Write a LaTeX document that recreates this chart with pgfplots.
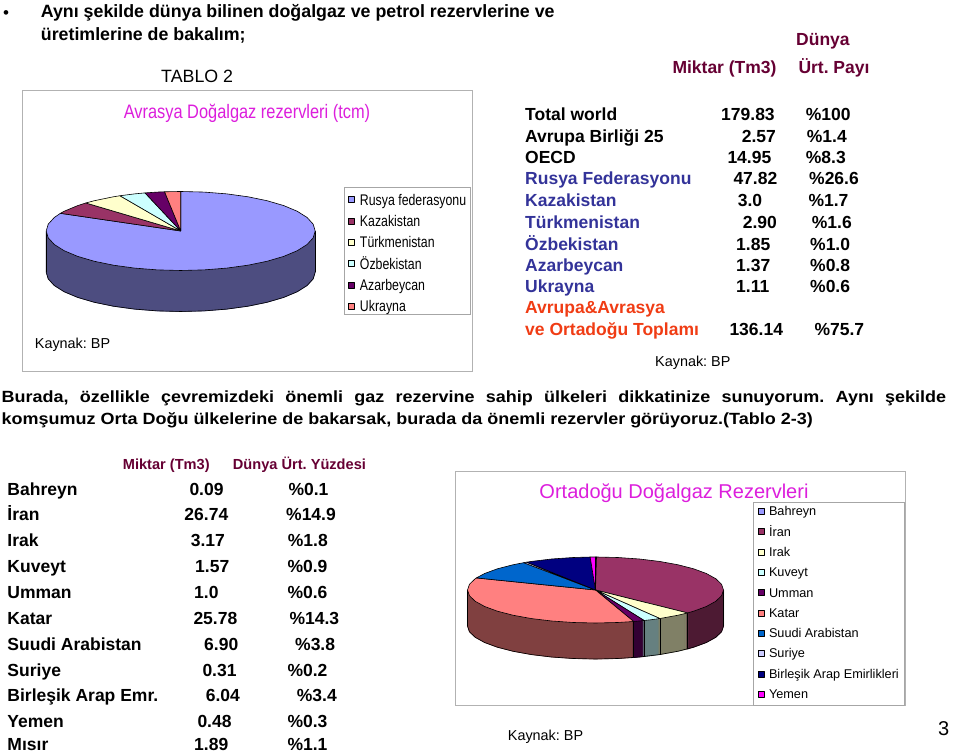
\documentclass[border=0pt]{standalone}
\usepackage{fontspec}
\setmainfont{Liberation Sans}
\newfontfamily\narrowA{Liberation Sans}[FakeStretch=0.84]
\newfontfamily\narrowB{Liberation Sans}[FakeStretch=0.80]
\newfontfamily\wideA{Liberation Sans}[FakeStretch=1.11]
\usepackage{pgfplots}
\pgfplotsset{compat=1.18}
\newcommand{\fs}[1]{\fontsize{#1bp}{#1bp}\selectfont}
\definecolor{maroon}{RGB}{102,0,51}
\definecolor{tblue}{RGB}{51,51,153}
\definecolor{tred}{RGB}{240,60,20}
\definecolor{mag}{RGB}{220,30,220}
\definecolor{cA}{RGB}{153,153,255}
\definecolor{cB}{RGB}{153,51,102}
\definecolor{cC}{RGB}{255,255,204}
\definecolor{cD}{RGB}{204,255,255}
\definecolor{cE}{RGB}{102,0,102}
\definecolor{cF}{RGB}{255,128,128}
\definecolor{cG}{RGB}{0,102,204}
\definecolor{cH}{RGB}{204,204,255}
\definecolor{cI}{RGB}{0,0,128}
\definecolor{cJ}{RGB}{255,0,255}
\definecolor{sA}{RGB}{77,77,128}
\definecolor{sB}{RGB}{77,26,51}
\definecolor{sC}{RGB}{128,128,102}
\definecolor{sD}{RGB}{102,128,128}
\definecolor{sE}{RGB}{51,0,51}
\definecolor{sF}{RGB}{128,64,64}
\pgfplotsset{pageaxis/.style={hide axis, clip=false, scale only axis, width=960bp, height=754bp, at={(0,0)}, anchor=south west}}
\tikzset{
 tb/.style={anchor=base west, inner sep=0pt, font=\bfseries\fs{17.5}},
 tr/.style={anchor=base west, inner sep=0pt, font=\fs{14.4}},
}
\frenchspacing
\begin{document}
\begin{tikzpicture}
\path[use as bounding box] (0,0) rectangle (960bp,754bp);
% ---------------- page text ----------------
\begin{axis}[pageaxis, xmin=0, xmax=960, ymin=0, ymax=754, y dir=reverse]
\draw[black!30, line width=0.8bp] (axis cs:22.5,90) rectangle (axis cs:472.7,371.7);
\draw[black!30, line width=0.8bp] (axis cs:455,471) rectangle (axis cs:905.5,705);
\node[anchor=base west, inner sep=0pt, font=\fs{17}] at (axis cs:3,19) {•};
\node[anchor=base west, inner sep=0pt, font=\bfseries\fs{17.8}] at (axis cs:40.7,17.3) {Aynı şekilde dünya bilinen doğalgaz ve petrol rezervlerine ve};
\node[anchor=base west, inner sep=0pt, font=\bfseries\fs{17.8}] at (axis cs:40.7,40.7) {üretimlerine de bakalım;};
\node[anchor=base west, inner sep=0pt, font=\fs{17.8}] at (axis cs:161,82.7) {TABLO 2};
% right table
\node[tb, text=maroon] at (axis cs:796,45.7) {Dünya};
\node[tb, text=maroon] at (axis cs:672.3,74) {Miktar (Tm3)};
\node[tb, text=maroon] at (axis cs:798.3,74) {Ürt. Payı};
\node[tb] at (axis cs:525,120.7) {Total world};
\node[tb] at (axis cs:721,120.7) {179.83};
\node[tb] at (axis cs:805.7,120.7) {\%100};
\node[tb] at (axis cs:525,142.3) {Avrupa Birliği 25};
\node[tb] at (axis cs:741.7,142.3) {2.57};
\node[tb] at (axis cs:806.7,142.3) {\%1.4};
\node[tb] at (axis cs:525,163.3) {OECD};
\node[tb] at (axis cs:727.3,163.3) {14.95};
\node[tb] at (axis cs:805.7,163.3) {\%8.3};
\node[tb, text=tblue] at (axis cs:525,184.3) {Rusya Federasyonu};
\node[tb] at (axis cs:733.3,184.3) {47.82};
\node[tb] at (axis cs:809,184.3) {\%26.6};
\node[tb, text=tblue] at (axis cs:525,206.7) {Kazakistan};
\node[tb] at (axis cs:737.7,206.7) {3.0};
\node[tb] at (axis cs:808.3,206.7) {\%1.7};
\node[tb, text=tblue] at (axis cs:525,228.3) {Türkmenistan};
\node[tb] at (axis cs:742.7,228.3) {2.90};
\node[tb] at (axis cs:811.7,228.3) {\%1.6};
\node[tb, text=tblue] at (axis cs:525,250) {Özbekistan};
\node[tb] at (axis cs:736,250) {1.85};
\node[tb] at (axis cs:810,250) {\%1.0};
\node[tb, text=tblue] at (axis cs:525,271.7) {Azarbeycan};
\node[tb] at (axis cs:736,271.7) {1.37};
\node[tb] at (axis cs:810,271.7) {\%0.8};
\node[tb, text=tblue] at (axis cs:525,292.7) {Ukrayna};
\node[tb] at (axis cs:736,292.7) {1.11};
\node[tb] at (axis cs:810,292.7) {\%0.6};
\node[tb, text=tred] at (axis cs:525,313.3) {Avrupa\&Avrasya};
\node[tb, text=tred] at (axis cs:525,335.7) {ve Ortadoğu Toplamı};
\node[tb] at (axis cs:729.3,335.7) {136.14};
\node[tb] at (axis cs:814.3,335.7) {\%75.7};
\node[tr] at (axis cs:655,366.7) {Kaynak: BP};
% chart 1 texts
\node[anchor=base, inner sep=0pt, font=\narrowA\fs{19.5}, text=mag] at (axis cs:247,118.3) {Avrasya Doğalgaz rezervleri (tcm)};
\node[tr] at (axis cs:34.7,348.3) {Kaynak: BP};
% paragraph
\node[anchor=base west, inner sep=0pt, font=\wideA\bfseries\fs{16.2}] at (axis cs:1.5,402.3) {\makebox[944.5bp][s]{Burada, özellikle çevremizdeki önemli gaz rezervine sahip ülkeleri dikkatinize sunuyorum. Aynı şekilde}};
\node[anchor=base west, inner sep=0pt, font=\wideA\bfseries\fs{16.2}] at (axis cs:1.5,424.3) {komşumuz Orta Doğu ülkelerine de bakarsak, burada da önemli rezervler görüyoruz.(Tablo 2-3)};
% bottom-left table
\node[anchor=base west, inner sep=0pt, font=\bfseries\fs{14.6}, text=maroon] at (axis cs:122.7,469.3) {Miktar (Tm3)};
\node[anchor=base west, inner sep=0pt, font=\bfseries\fs{14.6}, text=maroon] at (axis cs:232.7,469.3) {Dünya Ürt. Yüzdesi};
\node[tb] at (axis cs:7.3,495) {Bahreyn};
\node[tb] at (axis cs:189.3,495) {0.09};
\node[tb] at (axis cs:288.3,495) {\%0.1};
\node[tb] at (axis cs:7.3,520.7) {İran};
\node[tb] at (axis cs:184.3,520.7) {26.74};
\node[tb] at (axis cs:286,520.7) {\%14.9};
\node[tb] at (axis cs:7.3,546.7) {Irak};
\node[tb] at (axis cs:190.7,546.7) {3.17};
\node[tb] at (axis cs:287.7,546.7) {\%1.8};
\node[tb] at (axis cs:7.3,572.7) {Kuveyt};
\node[tb] at (axis cs:195,572.7) {1.57};
\node[tb] at (axis cs:287.3,572.7) {\%0.9};
\node[tb] at (axis cs:7.3,598.3) {Umman};
\node[tb] at (axis cs:194,598.3) {1.0};
\node[tb] at (axis cs:287.3,598.3) {\%0.6};
\node[tb] at (axis cs:7.3,624.3) {Katar};
\node[tb] at (axis cs:193.3,624.3) {25.78};
\node[tb] at (axis cs:289.3,624.3) {\%14.3};
\node[tb] at (axis cs:7.3,650) {Suudi Arabistan};
\node[tb] at (axis cs:204,650) {6.90};
\node[tb] at (axis cs:295,650) {\%3.8};
\node[tb] at (axis cs:7.3,676) {Suriye};
\node[tb] at (axis cs:202.3,676) {0.31};
\node[tb] at (axis cs:287.3,676) {\%0.2};
\node[tb] at (axis cs:7.3,701.7) {Birleşik Arap Emr.};
\node[tb] at (axis cs:205.7,701.7) {6.04};
\node[tb] at (axis cs:296.7,701.7) {\%3.4};
\node[tb] at (axis cs:7.3,727.3) {Yemen};
\node[tb] at (axis cs:197.3,727.3) {0.48};
\node[tb] at (axis cs:287.3,727.3) {\%0.3};
\node[tb] at (axis cs:7.3,750) {Mısır};
\node[tb] at (axis cs:194,750) {1.89};
\node[tb] at (axis cs:287.3,750) {\%1.1};
% chart 2 texts
\node[anchor=base, inner sep=0pt, font=\fs{20}, text=mag] at (axis cs:674,498.3) {Ortadoğu Doğalgaz Rezervleri};
\node[tr] at (axis cs:507.7,740.7) {Kaynak: BP};
\node[anchor=base west, inner sep=0pt, font=\fs{20}] at (axis cs:938,735) {3};
\end{axis}
% ---------------- pie 1: Avrasya ----------------
\begin{axis}[pageaxis, data cs=polar,
  xmin=-1.34349, xmax=5.79405, ymin=-13.24051, ymax=5.84810,
  legend style={at={(0.35802,0.75239)}, anchor=north west, draw=black!35, fill=white,
    inner xsep=4.3bp, inner ysep=0bp, row sep=0bp, font=\narrowB\fs{15.4},
    cells={anchor=base west}, nodes={inner sep=0bp, text height=18.3bp, text depth=3bp}},
  legend image code/.code={\draw[#1, line width=0.4bp] (0bp,2.5bp) rectangle (6bp,8.5bp); \path (11.3bp,0bp);}]
\pgfplotsinvokeforeach{41,40,...,1}{
\addplot[forget plot, fill=sA, draw=sA, line width=0.8bp, yshift=-#1bp] coordinates {(0,0) (0,1) (-10,1) (-20,1) (-30,1) (-40,1) (-50,1) (-60,1) (-70,1) (-80,1) (-90,1) (-100,1) (-110,1) (-120,1) (-130,1) (-140,1) (-150,1) (-160,1) (-170,1) (-180,1) (0,0)};
}
\addplot[forget plot, draw=black, line width=0.6bp, yshift=-41bp] coordinates {(0,1) (-10,1) (-20,1) (-30,1) (-40,1) (-50,1) (-60,1) (-70,1) (-80,1) (-90,1) (-100,1) (-110,1) (-120,1) (-130,1) (-140,1) (-150,1) (-160,1) (-170,1) (-180,1)};
\addplot[forget plot, data cs=cart, draw=black, line width=0.6bp] coordinates {(1,0) (1,-1.03797)};
\addplot[forget plot, data cs=cart, draw=black, line width=0.6bp] coordinates {(-1,0) (-1,-1.03797)};
\addplot[fill=cA, draw=black, line width=0.6bp, line join=round] coordinates {(0,0) (90,1) (80,1) (70,1) (60,1) (50,1) (40,1) (30,1) (20,1) (10,1) (0,1) (-10,1) (-20,1) (-30,1) (-40,1) (-50,1) (-60,1) (-70,1) (-80,1) (-90,1) (-100,1) (-110,1) (-120,1) (-130,1) (-140,1) (-150,1) (-160,1) (-170,1) (-180,1) (-190,1) (-200,1) (-206.56,1) (0,0)};
\addlegendentry{Rusya federasyonu}
\addplot[fill=cB, draw=black, line width=0.6bp, line join=round] coordinates {(0,0) (-206.56,1) (-210,1) (-220,1) (-225.16,1) (0,0)};
\addlegendentry{Kazakistan}
\addplot[fill=cC, draw=black, line width=0.6bp, line join=round] coordinates {(0,0) (-225.16,1) (-230,1) (-240,1) (-243.14,1) (0,0)};
\addlegendentry{Türkmenistan}
\addplot[fill=cD, draw=black, line width=0.6bp, line join=round] coordinates {(0,0) (-243.14,1) (-250,1) (-254.61,1) (0,0)};
\addlegendentry{Özbekistan}
\addplot[fill=cE, draw=black, line width=0.6bp, line join=round] coordinates {(0,0) (-254.61,1) (-260,1) (-263.11,1) (0,0)};
\addlegendentry{Azarbeycan}
\addplot[fill=cF, draw=black, line width=0.6bp, line join=round] coordinates {(0,0) (-263.11,1) (-270,1) (0,0)};
\addlegendentry{Ukrayna}
\end{axis}
% ---------------- pie 2: Ortadogu ----------------
\begin{axis}[pageaxis, data cs=polar,
  xmin=-4.65234, xmax=2.84766, ymin=-4.96970, ymax=17.87879,
  legend style={at={(0.78406,0.33462)}, anchor=north west, draw=black!35, fill=white,
    inner xsep=5bp, inner ysep=0bp, row sep=0bp, font=\fs{12.7},
    cells={anchor=base west}, nodes={inner sep=0bp, text height=14bp, text depth=6.3bp}},
  legend image code/.code={\draw[#1, line width=0.4bp] (0bp,1.5bp) rectangle (6bp,7.5bp); \path (10.6bp,0bp);}]
\pgfplotsinvokeforeach{36,35,...,1}{
\addplot[forget plot, fill=sF, draw=sF, line width=0.8bp, yshift=-#1bp] coordinates {(0,0) (-72.66,1) (-80,1) (-90,1) (-100,1) (-110,1) (-120,1) (-130,1) (-140,1) (-150,1) (-160,1) (-170,1) (-180,1) (0,0)};
\addplot[forget plot, fill=sE, draw=sE, line width=0.8bp, yshift=-#1bp] coordinates {(0,0) (-67.67,1) (-72.66,1) (0,0)};
\addplot[forget plot, fill=sD, draw=sD, line width=0.8bp, yshift=-#1bp] coordinates {(0,0) (-59.83,1) (-64,1) (-67.67,1) (0,0)};
\addplot[forget plot, fill=sC, draw=sC, line width=0.8bp, yshift=-#1bp] coordinates {(0,0) (-44,1) (-50,1) (-59.83,1) (0,0)};
\addplot[forget plot, fill=sB, draw=sB, line width=0.8bp, yshift=-#1bp] coordinates {(0,0) (0,1) (-10,1) (-20,1) (-30,1) (-40,1) (-44,1) (0,0)};
}
\addplot[forget plot, draw=black, line width=0.6bp, yshift=-36bp] coordinates {(0,1) (-10,1) (-20,1) (-30,1) (-40,1) (-50,1) (-60,1) (-70,1) (-80,1) (-90,1) (-100,1) (-110,1) (-120,1) (-130,1) (-140,1) (-150,1) (-160,1) (-170,1) (-180,1)};
\addplot[forget plot, data cs=cart, draw=black, line width=0.6bp] coordinates {(1,0) (1,-1.09091)};
\addplot[forget plot, data cs=cart, draw=black, line width=0.6bp] coordinates {(-1,0) (-1,-1.09091)};
\addplot[forget plot, data cs=cart, draw=black, line width=0.6bp] coordinates {(0.71934,-0.69466) (0.71934,-1.78557)};
\addplot[forget plot, data cs=cart, draw=black, line width=0.6bp] coordinates {(0.50257,-0.86452) (0.50257,-1.95543)};
\addplot[forget plot, data cs=cart, draw=black, line width=0.6bp] coordinates {(0.37994,-0.92502) (0.37994,-2.01593)};
\addplot[forget plot, data cs=cart, draw=black, line width=0.6bp] coordinates {(0.29805,-0.95456) (0.29805,-2.04547)};
\addplot[fill=cA, draw=black, line width=0.6bp, line join=round] coordinates {(0,0) (90,1) (89.55,1) (0,0)};
\addlegendentry{Bahreyn}
\addplot[fill=cB, draw=black, line width=0.6bp, line join=round] coordinates {(0,0) (89.55,1) (80,1) (70,1) (60,1) (50,1) (40,1) (30,1) (20,1) (10,1) (0,1) (-10,1) (-20,1) (-30,1) (-40,1) (-44,1) (0,0)};
\addlegendentry{İran}
\addplot[fill=cC, draw=black, line width=0.6bp, line join=round] coordinates {(0,0) (-44,1) (-50,1) (-59.83,1) (0,0)};
\addlegendentry{Irak}
\addplot[fill=cD, draw=black, line width=0.6bp, line join=round] coordinates {(0,0) (-59.83,1) (-64,1) (-67.67,1) (0,0)};
\addlegendentry{Kuveyt}
\addplot[fill=cE, draw=black, line width=0.6bp, line join=round] coordinates {(0,0) (-67.67,1) (-72.66,1) (0,0)};
\addlegendentry{Umman}
\addplot[fill=cF, draw=black, line width=0.6bp, line join=round] coordinates {(0,0) (-72.66,1) (-80,1) (-90,1) (-100,1) (-110,1) (-120,1) (-130,1) (-140,1) (-150,1) (-160,1) (-170,1) (-180,1) (-190,1) (-200,1) (-201.42,1) (0,0)};
\addlegendentry{Katar}
\addplot[fill=cG, draw=black, line width=0.6bp, line join=round] coordinates {(0,0) (-201.42,1) (-210,1) (-220,1) (-230,1) (-235.88,1) (0,0)};
\addlegendentry{Suudi Arabistan}
\addplot[fill=cH, draw=black, line width=0.6bp, line join=round] coordinates {(0,0) (-235.88,1) (-237.43,1) (0,0)};
\addlegendentry{Suriye}
\addplot[fill=cI, draw=black, line width=0.6bp, line join=round] coordinates {(0,0) (-237.43,1) (-240,1) (-250,1) (-260,1) (-267.6,1) (0,0)};
\addlegendentry{Birleşik Arap Emirlikleri}
\addplot[fill=cJ, draw=black, line width=0.6bp, line join=round] coordinates {(0,0) (-267.6,1) (-270,1) (0,0)};
\addlegendentry{Yemen}
\end{axis}
\end{tikzpicture}
\end{document}
